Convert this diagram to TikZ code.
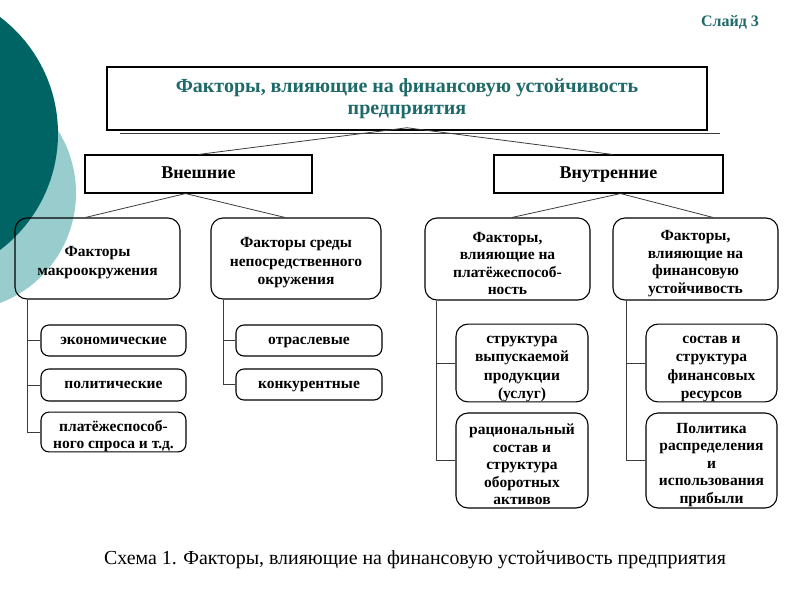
\documentclass[tikz,border=0pt]{standalone}
\usepackage{fontspec}
\setmainfont{Liberation Serif}
\definecolor{darkteal}{RGB}{0,100,100}
\definecolor{lightteal}{RGB}{153,204,204}
\definecolor{titleteal}{RGB}{30,105,105}
\definecolor{linegray}{RGB}{60,60,60}
\newcommand{\tsp}{\rule{0pt}{19pt}}
\begin{document}
\begin{tikzpicture}[x=1pt,y=-1pt,
  boxbase/.style={draw=black, line width=1.1pt, inner sep=0pt, align=center,
    font=\bfseries\fontsize{15.5}{17.5}\selectfont},
  sqbox/.style={boxbase},
  lvtwo/.style={boxbase, font=\bfseries\fontsize{18}{20}\selectfont, text height=13pt, text depth=5pt},
  rbig/.style={boxbase, rounded corners=12pt},
  rsmall/.style={boxbase, rounded corners=8pt},
  oneline/.style={rsmall, text height=11pt, text depth=4pt},
  conn/.style={draw=linegray, line width=0.8pt}
]
\useasboundingbox (0,0) rectangle (800,600);
\fill[white] (0,0) rectangle (800,600);
% background circles
\begin{scope}
\clip (0,0) rectangle (800,600);
\fill[lightteal] (-41.6,193) circle[radius=117.6];
\fill[darkteal] (-88,133.5) circle[radius=146];
\end{scope}

\node[font=\bfseries\fontsize{16}{18}\selectfont, text=titleteal] (slide) at (730,22) {Слайд 3};

% top
\draw[conn] (120,133.5) -- (720,133.5);
\node[sqbox, line width=1.5pt, minimum width=600, minimum height=63,
  font=\bfseries\fontsize{20}{22}\selectfont, text=titleteal] (top) at (407,98.5)
  {Факторы, влияющие на финансовую устойчивость\\предприятия};

\node[lvtwo, minimum width=227, minimum height=38] (vn) at (198.5,174) {Внешние};
\node[lvtwo, minimum width=229, minimum height=38] (vt) at (608.5,174) {Внутренние};

\node[rbig, minimum width=165, minimum height=81, font=\bfseries\fontsize{15.5}{19}\selectfont] (macro) at (97.5,258.5) {\tsp Факторы\\макроокружения};
\node[rbig, minimum width=170, minimum height=81, font=\bfseries\fontsize{15.5}{18.5}\selectfont] (sreda) at (296,258.5) {\tsp Факторы среды\\непосредственного\\окружения};
\node[rbig, minimum width=165, minimum height=82] (plat) at (507.5,259) {\tsp Факторы,\\влияющие на\\платёжеспособ-\\ность};
\node[rbig, minimum width=165, minimum height=82] (fin) at (695.5,259) {\tsp Факторы,\\влияющие на\\финансовую\\устойчивость};

\node[oneline, minimum width=145, minimum height=31] (eko) at (113.5,340.5) {экономические};
\node[oneline, minimum width=145, minimum height=32] (pol) at (113.5,385) {политические};
\node[rsmall, minimum width=145, minimum height=38] (plsp) at (113.5,432) {\tsp платёжеспособ-\\ного спроса и т.д.};

\node[oneline, minimum width=146, minimum height=31] (otr) at (309,340.5) {отраслевые};
\node[oneline, minimum width=146, minimum height=31] (konk) at (309,384.5) {конкурентные};

\node[rbig, minimum width=132, minimum height=76, font=\bfseries\fontsize{15.5}{18.5}\selectfont] (str) at (522,363) {\tsp структура\\выпускаемой\\продукции\\(услуг)};
\node[rbig, minimum width=132, minimum height=95] (rac) at (522,460.5) {\tsp рациональный\\состав и\\структура\\оборотных\\активов};
\node[rbig, minimum width=131, minimum height=76, font=\bfseries\fontsize{15.5}{18.5}\selectfont] (sost) at (711.5,363) {\tsp состав и\\структура\\финансовых\\ресурсов};
\node[rbig, minimum width=131, minimum height=95] (pol2) at (711.5,460.5) {\tsp Политика\\распределения\\и\\использования\\прибыли};

% connectors
\draw[conn] ([yshift=3pt]top.south) -- (vn.north);
\draw[conn] ([yshift=3pt]top.south) -- ([xshift=4pt]vt.north);
\draw[conn] ([xshift=-13pt]vn.south) -- ([xshift=-12pt]macro.north);
\draw[conn] ([xshift=-13pt]vn.south) -- ([xshift=-11pt]sreda.north);
\draw[conn] ([xshift=12pt]vt.south) -- ([xshift=4.5pt]plat.north);
\draw[conn] ([xshift=12pt]vt.south) -- ([xshift=17.5pt]fin.north);

\draw[conn] ([xshift=13pt]macro.south west) |- (eko.west);
\draw[conn] ([xshift=13pt]macro.south west) |- (pol.west);
\draw[conn] ([xshift=13pt]macro.south west) |- (plsp.west);
\draw[conn] ([xshift=13pt]sreda.south west) |- (otr.west);
\draw[conn] ([xshift=13pt]sreda.south west) |- (konk.west);
\draw[conn] ([xshift=12pt]plat.south west) |- (str.west);
\draw[conn] ([xshift=12pt]plat.south west) |- (rac.west);
\draw[conn] ([xshift=14pt]fin.south west) |- (sost.west);
\draw[conn] ([xshift=14pt]fin.south west) |- (pol2.west);

\node[font=\fontsize{19.9}{22}\selectfont] (caption) at (415,560)
  {Схема 1. Факторы, влияющие на финансовую устойчивость предприятия};
\end{tikzpicture}
\end{document}
